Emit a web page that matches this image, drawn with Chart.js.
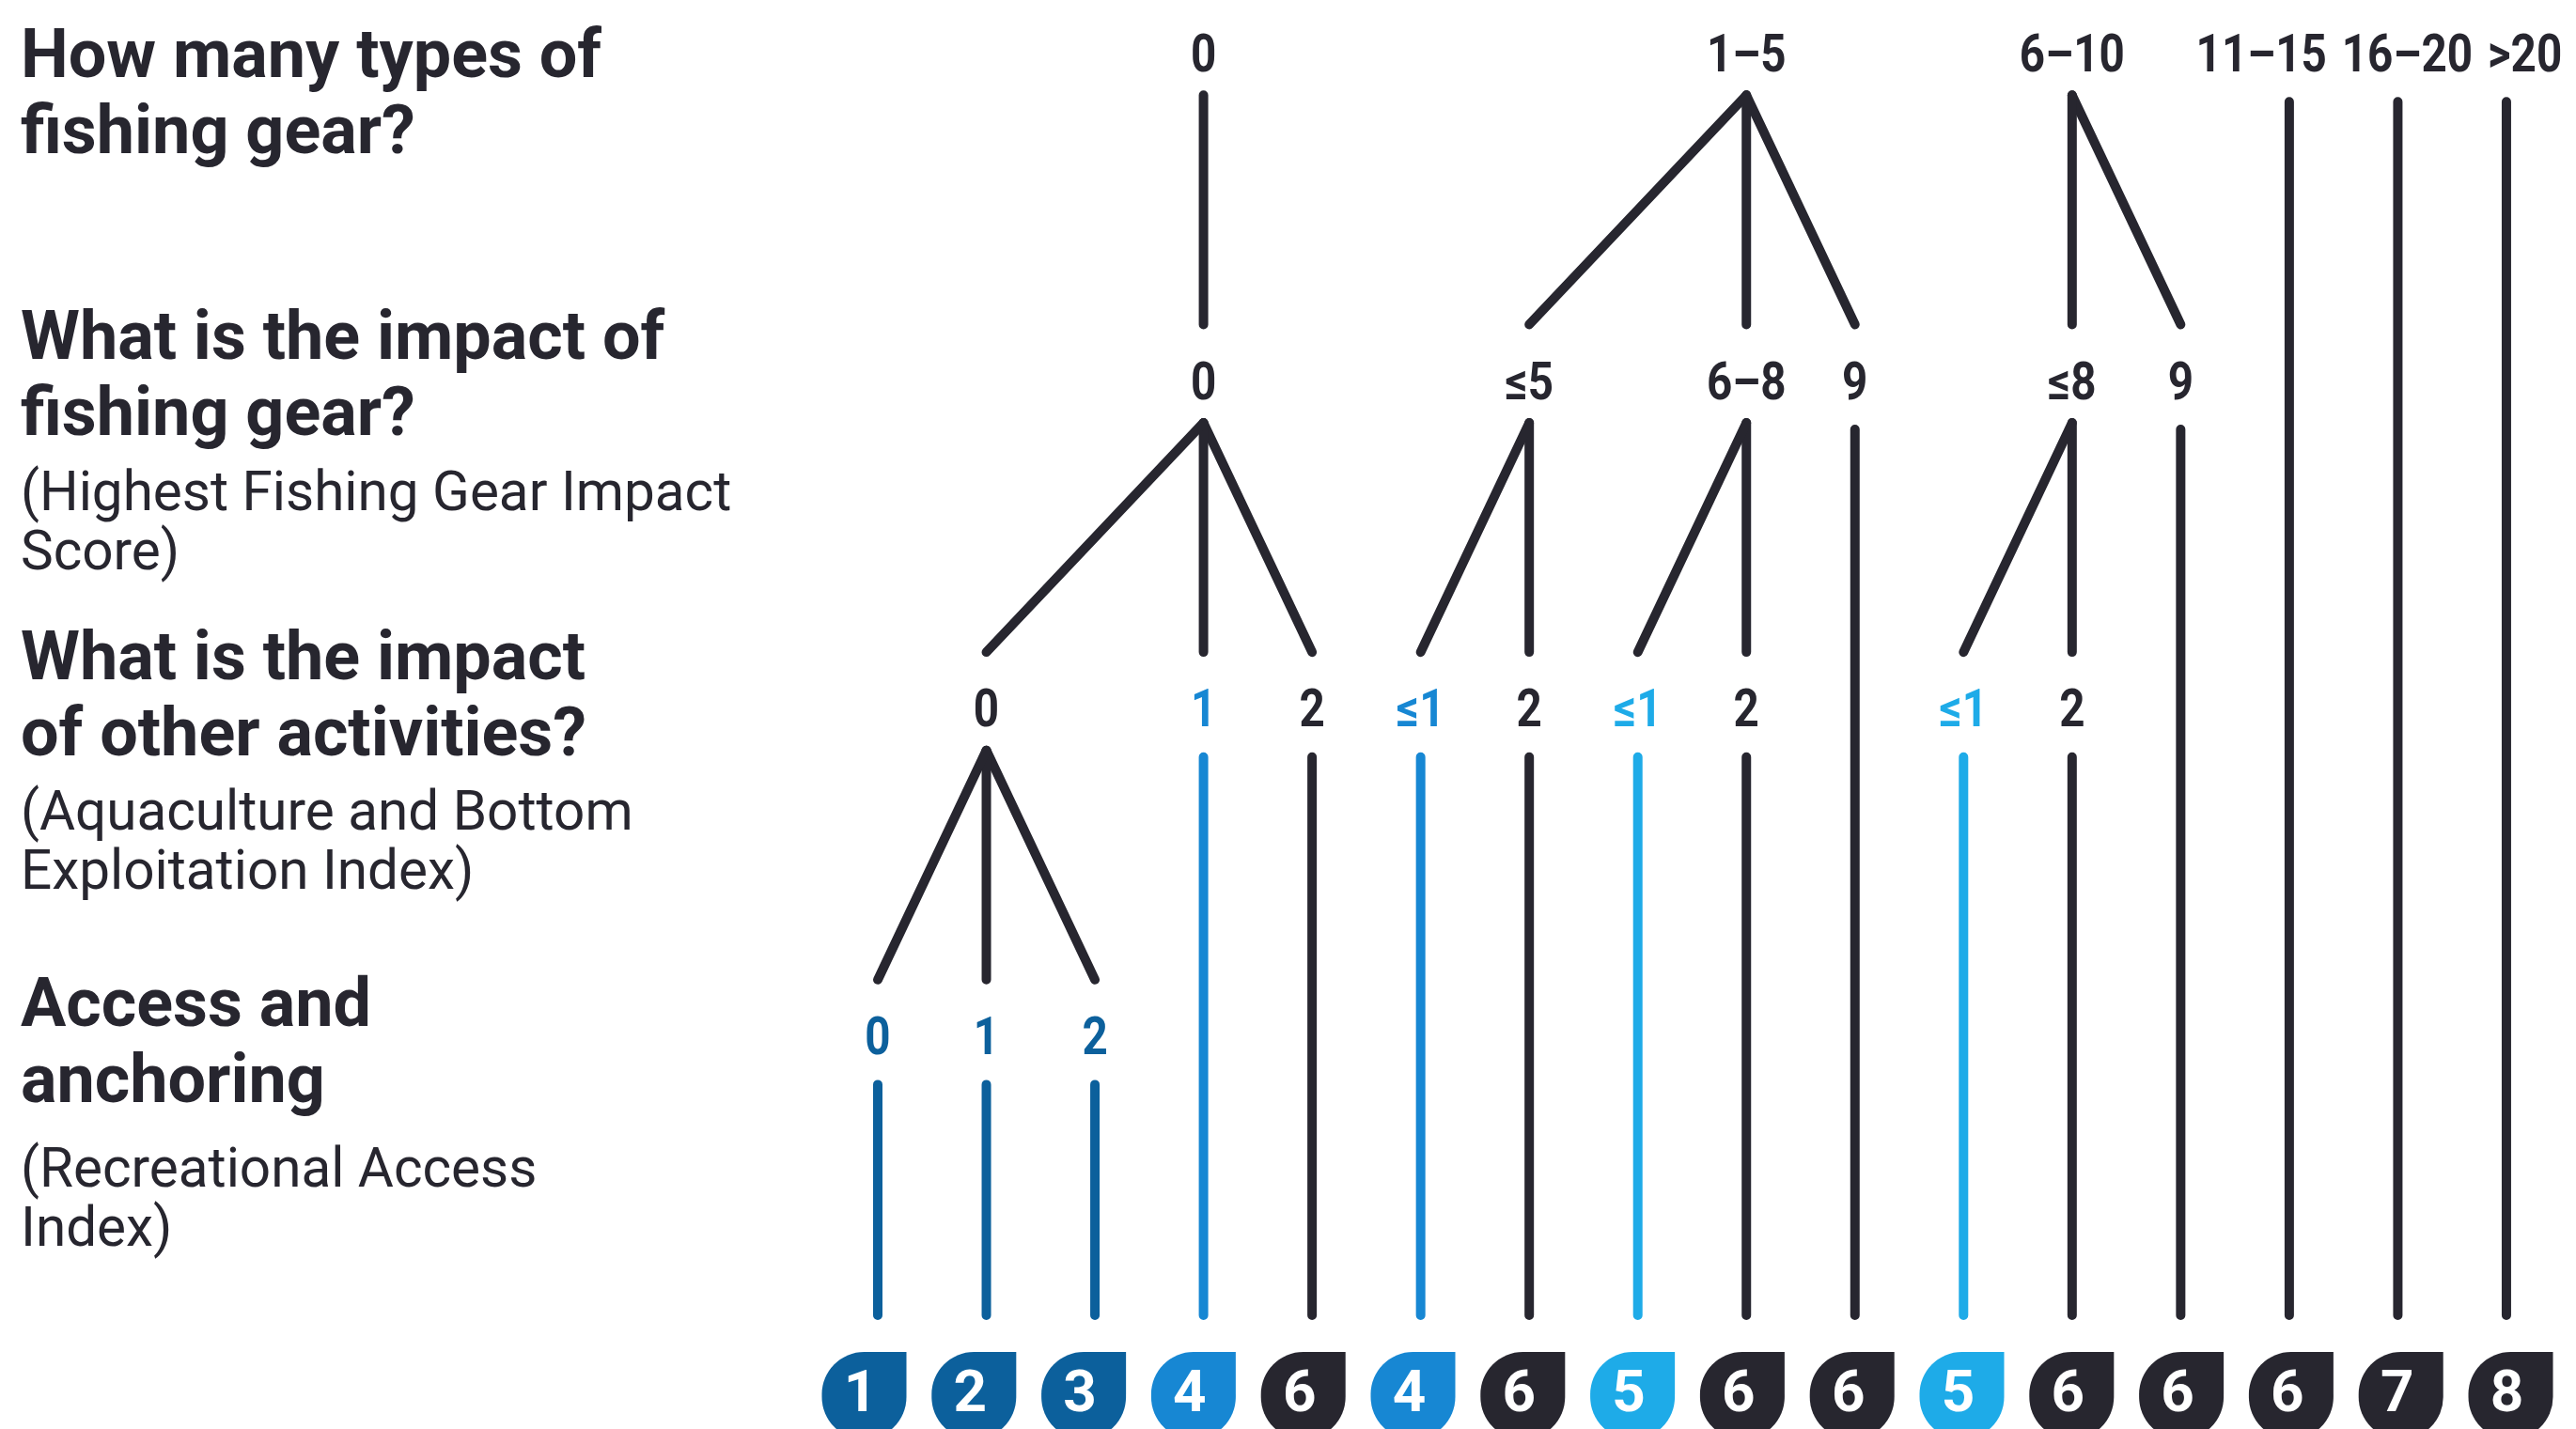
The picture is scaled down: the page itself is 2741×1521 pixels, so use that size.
<!DOCTYPE html>
<html>
<head>
<meta charset="utf-8">
<script src="https://cdn.jsdelivr.net/npm/chart.js@4"></script>
<style>
  html, body { margin: 0; padding: 0; background: #ffffff; }
  canvas { display: block; }
</style>
</head>
<body>
<canvas id="tree" width="2741" height="1521"></canvas>
<script>
// questions on the left, one block per level of the tree
const questions = [
    ['How many types of', 'fishing gear?'],
    ['What is the impact of', 'fishing gear?'],
    ['What is the impact', 'of other activities?'],
    ['Access and', 'anchoring']
];
const notes = [
    [],
    ['(Highest Fishing Gear Impact', 'Score)'],
    ['(Aquaculture and Bottom', 'Exploitation Index)'],
    ['(Recreational Access', 'Index)']
];

// tree nodes: label, leaf column the node sits above, index of the parent node
const gearTypes = ['0', '1–5', '6–10', '11–15', '16–20', '>20'];
const gearTypeCol = [3, 8, 11, 13, 14, 15];

const gearImpact = ['0', '≤5', '6–8', '9', '≤8', '9'];
const gearImpactCol = [3, 6, 8, 9, 11, 12];
const gearImpactParent = [0, 1, 1, 1, 2, 2];

const otherImpact = ['0', '1', '2', '≤1', '2', '≤1', '2', '≤1', '2'];
const otherImpactCol = [1, 3, 4, 5, 6, 7, 8, 10, 11];
const otherImpactParent = [0, 0, 0, 1, 1, 2, 2, 4, 4];

const access = ['0', '1', '2'];
const accessCol = [0, 1, 2];
const accessParent = [0, 0, 0];

// final score for each leaf (left to right)
const scores = [1, 2, 3, 4, 6, 4, 6, 5, 6, 6, 5, 6, 6, 6, 7, 8];

const DARK = '#27262f';
const scoreColor = s => s <= 3 ? '#0c609c' : s === 4 ? '#1787d3' : s === 5 ? '#1eabe8' : DARK;

const levels = [
    { labels: gearTypes, cols: gearTypeCol, parent: null },
    { labels: gearImpact, cols: gearImpactCol, parent: gearImpactParent },
    { labels: otherImpact, cols: otherImpactCol, parent: otherImpactParent },
    { labels: access, cols: accessCol, parent: accessParent }
];

// gaps between a label row and its lines, in level units
const FAN_TOP = 0.13, STEM_TOP = 0.15, FAN_BOTTOM = 0.17;
const STEM_END = 3.854, BADGE_Y = 3.966;
const LABEL_SQUEEZE = 0.85;

const edge = (x1, y1, x2, y2, color) => ({
    data: [{ x: x1, y: y1 }, { x: x2, y: y2 }],
    showLine: true,
    borderColor: color,
    borderWidth: 10,
    borderCapStyle: 'round',
    borderJoinStyle: 'round',
    pointRadius: 0,
    pointHoverRadius: 0,
    xAxisID: 'x',
    yAxisID: 'y'
});

const childrenOf = (L, j) => {
    const next = levels[L + 1];
    if (!next) return [];
    return next.parent.map((p, k) => p === j ? k : -1).filter(k => k >= 0);
};

const datasets = [];
levels.forEach((lvl, L) => {
    lvl.labels.forEach((lab, j) => {
        const kids = childrenOf(L, j);
        if (kids.length) {
            kids.forEach(k => {
                datasets.push(edge(lvl.cols[j], L + FAN_TOP, levels[L + 1].cols[k], L + 1 - FAN_BOTTOM, DARK));
            });
        } else {
            const c = lvl.cols[j];
            datasets.push(edge(c, L + STEM_TOP, c, STEM_END, scoreColor(scores[c])));
        }
    });
});

// badges sit on their own x axis (slightly wider spacing than the lines)
const badgeIndex = datasets.length;
datasets.push({
    data: scores.map((s, i) => ({ x: i, y: BADGE_Y })),
    showLine: false,
    pointRadius: 0,
    pointHoverRadius: 0,
    xAxisID: 'x2',
    yAxisID: 'y'
});

const nodeLabels = {
    id: 'nodeLabels',
    afterDatasetsDraw(chart) {
        const { ctx, scales } = chart;
        ctx.save();
        ctx.font = 'bold 56px Roboto';
        ctx.textBaseline = 'alphabetic';
        ctx.textAlign = 'center';
        levels.forEach((lvl, L) => {
            const y = scales.y.getPixelForValue(L) + 20;
            const items = lvl.labels.map((lab, j) => {
                const w = ctx.measureText(lab).width * LABEL_SQUEEZE;
                return { lab, j, w, x: scales.x.getPixelForValue(lvl.cols[j]) };
            });
            // push crowded labels apart a little
            for (let pass = 0; pass < 6; pass++) {
                for (let i = 0; i < items.length - 1; i++) {
                    const a = items[i], b = items[i + 1];
                    const overlap = (a.x + a.w / 2 + 16) - (b.x - b.w / 2);
                    if (overlap > 0) { a.x -= overlap / 2; b.x += overlap / 2; }
                }
                const last = items[items.length - 1];
                const edgeR = chart.width - 6;
                if (last.x + last.w / 2 > edgeR) last.x = edgeR - last.w / 2;
            }
            items.forEach(it => {
                const kids = childrenOf(L, it.j);
                ctx.fillStyle = kids.length ? DARK : scoreColor(scores[lvl.cols[it.j]]);
                ctx.save();
                ctx.translate(it.x, y);
                ctx.scale(LABEL_SQUEEZE, 1);
                ctx.fillText(it.lab, 0, 0);
                ctx.restore();
            });
        });

        // score badges
        const meta = chart.getDatasetMeta(badgeIndex);
        meta.data.forEach((pt, i) => {
            const cx = pt.x, top = pt.y;
            ctx.fillStyle = scoreColor(scores[i]);
            ctx.beginPath();
            ctx.roundRect(cx - 45, top, 90, 93, [45, 0, 45, 45]);
            ctx.fill();
            ctx.fillStyle = '#ffffff';
            ctx.font = 'bold 62px Roboto';
            ctx.fillText(String(scores[i]), cx - 4, top + 63);
        });
        ctx.restore();
    }
};

const sideText = {
    id: 'sideText',
    afterDraw(chart) {
        const { ctx } = chart;
        const qBase = [82, 382, 723, 1092];
        const nBase = [0, 543, 883, 1263];
        ctx.save();
        ctx.fillStyle = DARK;
        ctx.textAlign = 'left';
        ctx.textBaseline = 'alphabetic';
        questions.forEach((lines, b) => {
            ctx.font = 'bold 73px Roboto';
            lines.forEach((t, k) => {
                ctx.save();
                ctx.translate(22, qBase[b] + k * 81);
                ctx.scale(0.985, 1);
                ctx.fillText(t, 0, 0);
                ctx.restore();
            });
            ctx.font = '59px Roboto';
            notes[b].forEach((t, k) => {
                ctx.save();
                ctx.translate(22, nBase[b] + k * 63);
                ctx.scale(0.99, 1);
                ctx.fillText(t, 0, 0);
                ctx.restore();
            });
        });
        ctx.restore();
    }
};

const draw = () => {
    new Chart(document.getElementById('tree'), {
        type: 'scatter',
        data: { datasets },
        options: {
            responsive: false,
            devicePixelRatio: 1,
            animation: false,
            events: [],
            layout: { padding: 0 },
            plugins: {
                legend: { display: false },
                tooltip: { enabled: false }
            },
            scales: {
                x: { type: 'linear', min: -8.0845, max: 15.641, display: false },
                x2: { type: 'linear', min: -7.8724, max: 15.595, display: false },
                y: { type: 'linear', min: -0.1606, max: 4.2013, reverse: true, display: false }
            }
        },
        plugins: [nodeLabels, sideText]
    });
};

Promise.all([
    document.fonts.load('bold 73px Roboto'),
    document.fonts.load('59px Roboto')
]).then(draw, draw);
</script>
</body>
</html>
